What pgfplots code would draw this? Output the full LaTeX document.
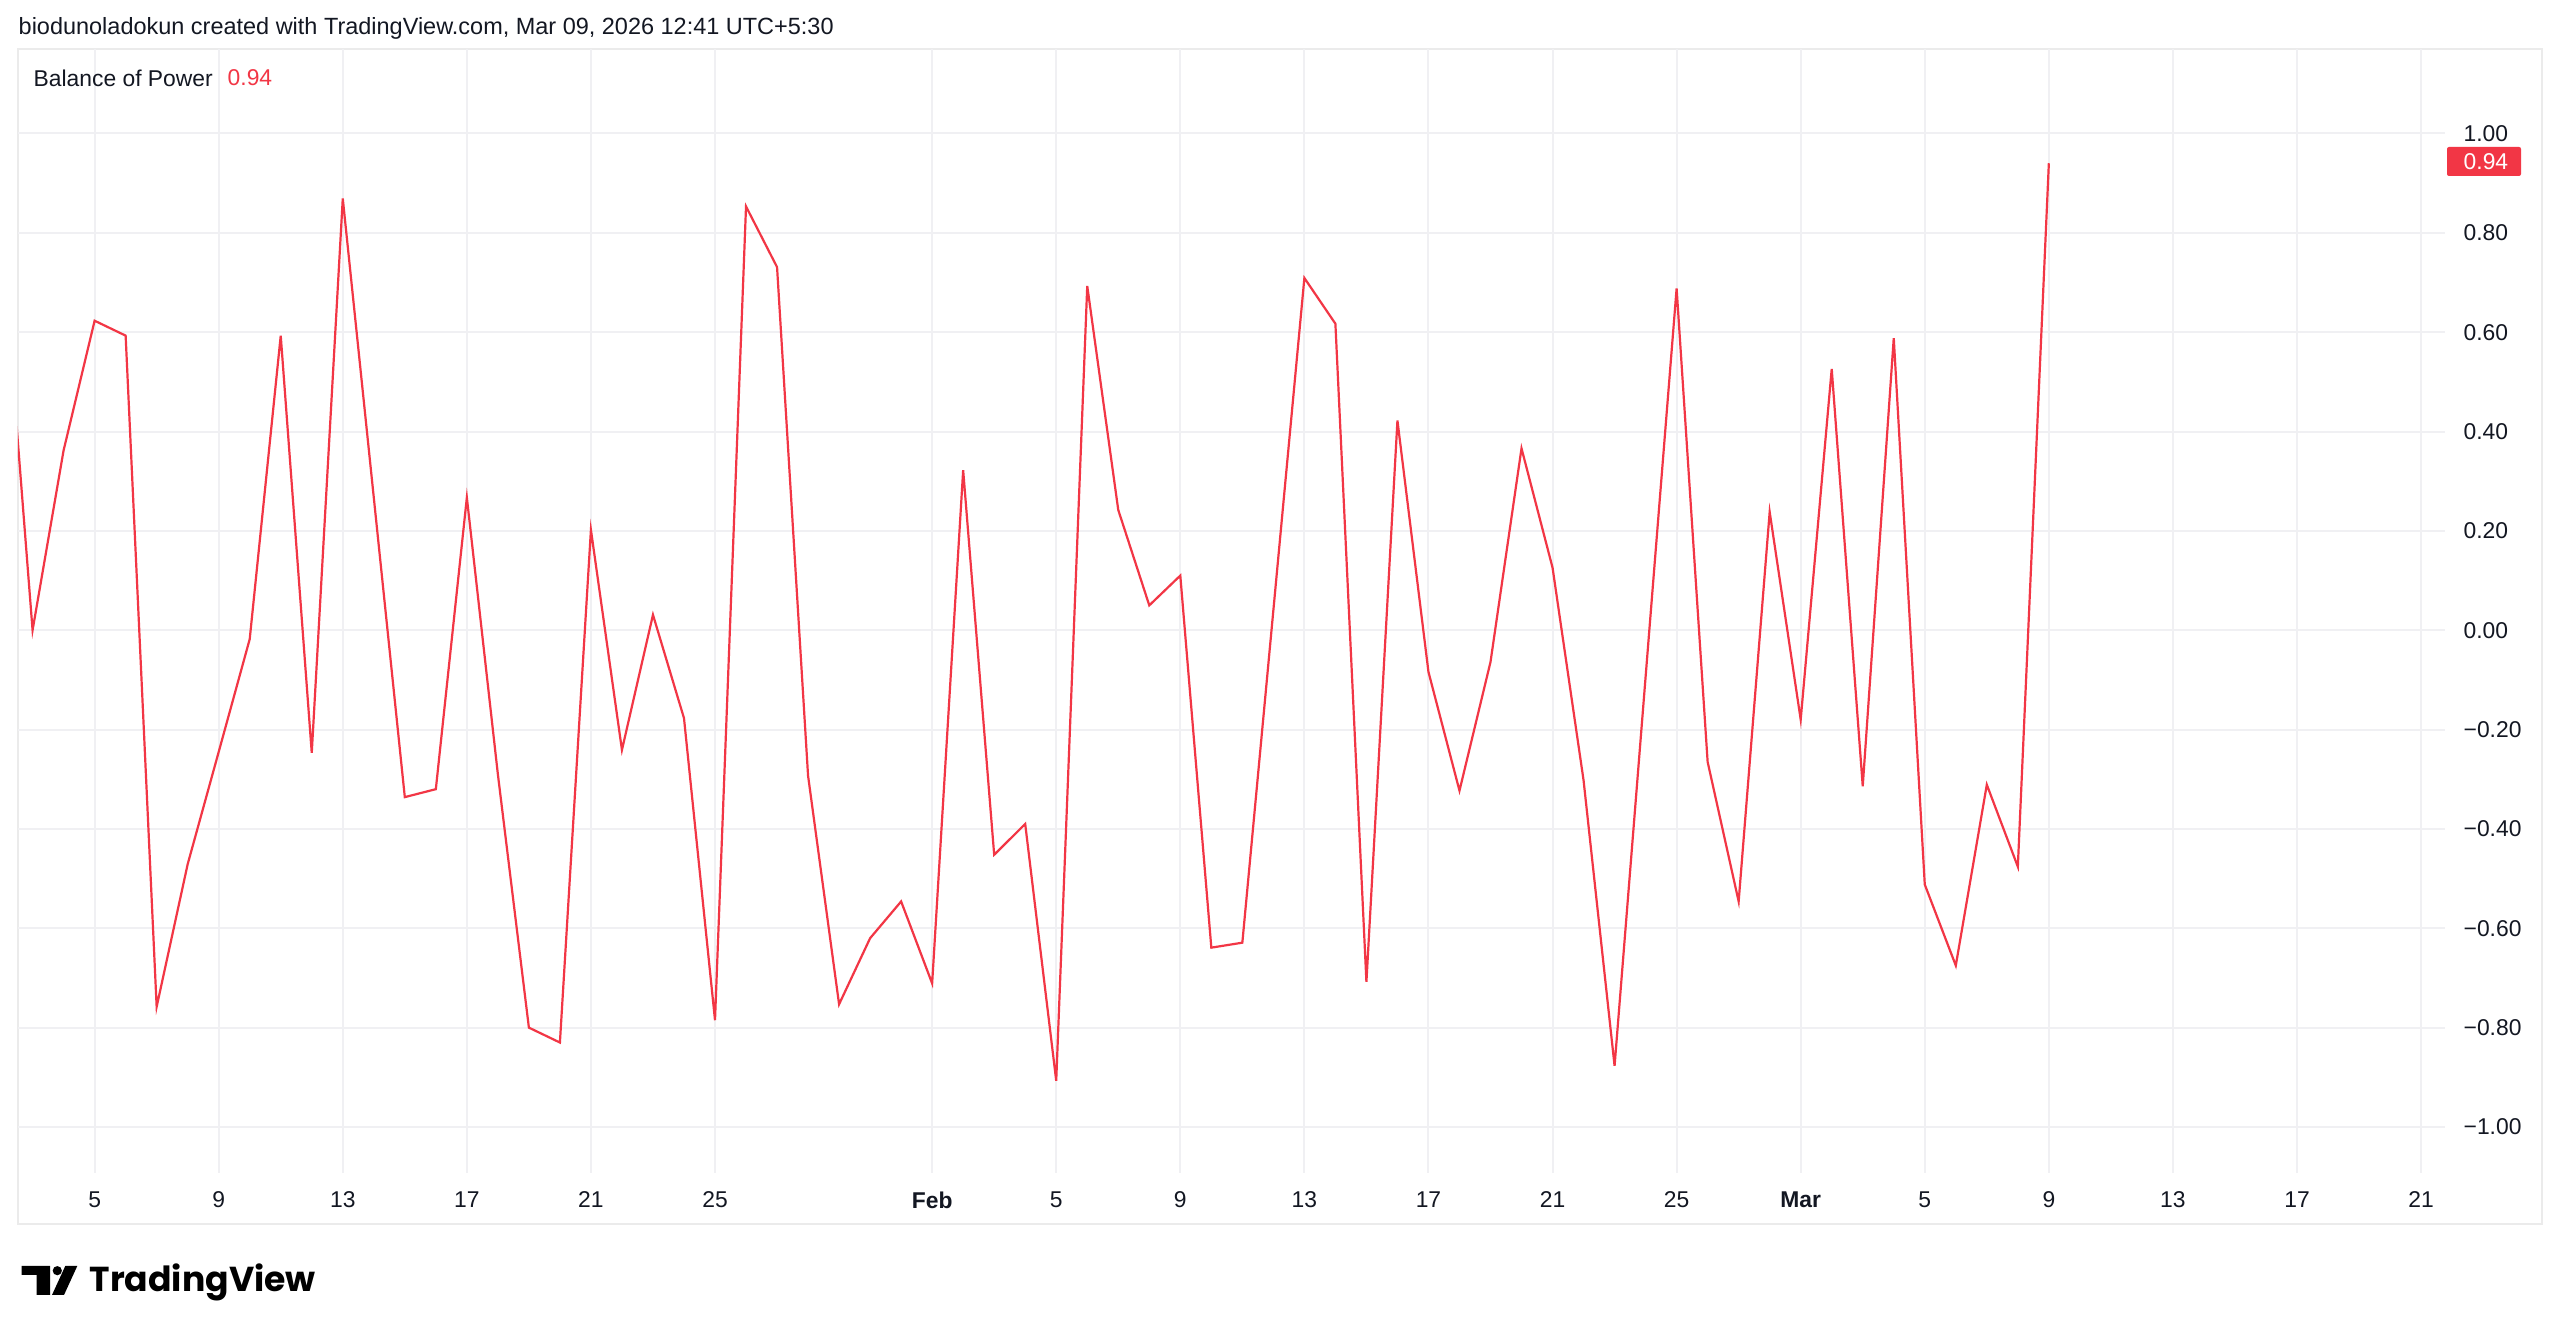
\documentclass[border=0pt]{standalone}
\usepackage{pgfplots}
\pgfplotsset{compat=1.18}
\usepackage{pgfplotstable}
\usepackage{fontspec}
\setmainfont{Liberation Sans}
\newfontfamily\logofont{Poppins}
\definecolor{tvred}{HTML}{F23645}
\definecolor{tvtext}{HTML}{131722}
\definecolor{tvgrid}{HTML}{F0F0F3}
\definecolor{tvborder}{HTML}{EBEBEB}

\pgfplotstableread{
day bop
2 0.80
3 0.000
4 0.362
5 0.623
6 0.593
7 -0.758
8 -0.471
9 -0.245
10 -0.018
11 0.593
12 -0.247
13 0.869
14 0.267
15 -0.336
16 -0.320
17 0.267
18 -0.290
19 -0.800
20 -0.830
21 0.202
22 -0.241
23 0.031
24 -0.177
25 -0.785
26 0.853
27 0.731
28 -0.293
29 -0.753
30 -0.620
31 -0.546
32 -0.711
33 0.322
34 -0.452
35 -0.390
36 -0.907
37 0.693
38 0.242
39 0.050
40 0.110
41 -0.639
42 -0.629
43 0.040
44 0.709
45 0.617
46 -0.708
47 0.422
48 -0.084
49 -0.323
50 -0.064
51 0.366
52 0.126
53 -0.302
54 -0.877
55 -0.094
56 0.688
57 -0.265
58 -0.546
59 0.238
60 -0.180
61 0.526
62 -0.314
63 0.588
64 -0.512
65 -0.675
66 -0.311
67 -0.476
68 0.940
}\bopdata

\newcommand{\tvfont}{\fontsize{6.5}{7.5}\selectfont}
\newcommand{\hdfont}{\fontsize{6.68}{7.5}\selectfont}

\begin{document}
\begin{tikzpicture}[x=0.1mm,y=0.1mm]
\fill[white] (0,0) rectangle (2560,1336);
\useasboundingbox (0,0) rectangle (2560,1336);
\draw[tvborder, line width=0.2mm] (18,112) rectangle (2542,1287);
\begin{axis}[
  at={(1.8mm,16.3mm)}, anchor=south west,
  width=242.7mm, height=112.4mm, scale only axis,
  xmin=2.53, xmax=80.77, ymin=-1.0926, ymax=1.170,
  axis line style={draw=none},
  major tick length=0pt, tick style={draw=none},
  grid=major, grid style={tvgrid, line width=0.2mm},
  xtick={5,9,13,17,21,25,32,36,40,44,48,52,56,60,64,68,72,76,80},
  xticklabels={5,9,13,17,21,25,\textbf{Feb},5,9,13,17,21,25,\textbf{Mar},5,9,13,17,21},
  ytick={-1,-0.8,-0.6,-0.4,-0.2,0,0.2,0.4,0.6,0.8,1},
  yticklabels={−1.00,−0.80,−0.60,−0.40,−0.20,0.00,0.20,0.40,0.60,0.80,1.00},
  yticklabel pos=right,
  yticklabel style={anchor=west, inner sep=0pt, xshift=1.8mm, font=\tvfont, text=tvtext},
  xticklabel style={anchor=center, inner sep=0pt, yshift=-2.7mm, font=\tvfont, text=tvtext},
]
\addplot[tvred, line width=0.22mm, line join=miter] table[x=day, y=bop] {\bopdata};
\end{axis}
% header
\node[anchor=west, inner sep=0pt, text=tvtext, font=\hdfont] at (18,1308) {biodunoladokun created with TradingView.com, Mar 09, 2026 12:41 UTC+5:30};
% legend
\node[anchor=west, inner sep=0pt, text=tvtext, font=\tvfont] at (33,1258) {Balance of Power};
\node[anchor=west, inner sep=0pt, text=tvred, font=\tvfont] at (227,1258) {0.94};
% last value tag
\fill[tvred, rounded corners=0.2mm] (2447,1160) rectangle (2521,1189);
\node[anchor=west, inner sep=0pt, text=white, font=\tvfont] at (2463,1174.5) {0.94};
% logo
\fill[black] (21.7,70) -- (50,70) -- (50,41) -- (36.7,41) -- (36.7,61) -- (21.7,61) -- cycle;
\fill[black] (57.3,65.3) circle (4.6);
\fill[black] (65.3,70) -- (77.3,70) -- (64,41) -- (52,41) -- cycle;
\node[anchor=base west, inner sep=0pt, text=black, font=\logofont\bfseries\fontsize{9.85}{11}\selectfont] at (89,44) {TradingView};
\end{tikzpicture}
\end{document}
